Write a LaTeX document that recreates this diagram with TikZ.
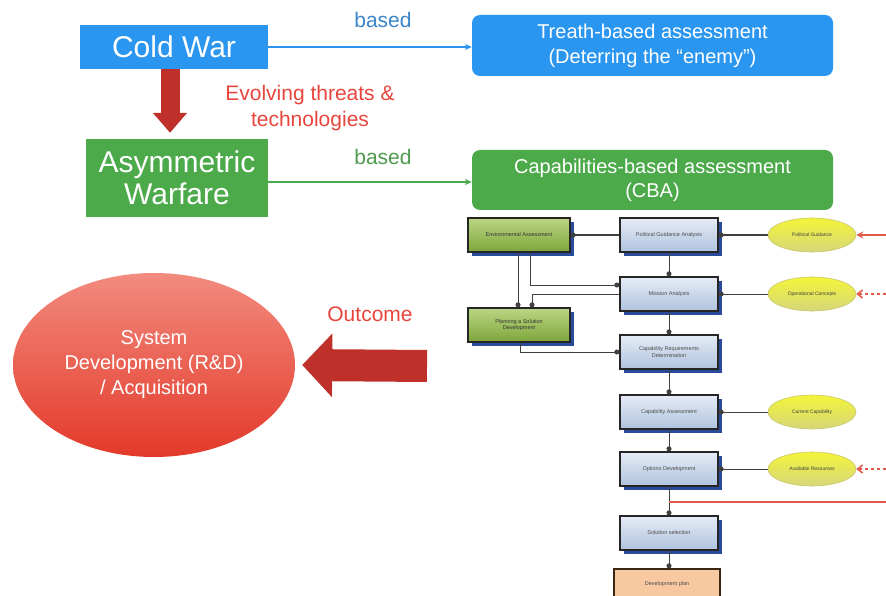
\documentclass[tikz,border=0pt]{standalone}
\usepackage{fontspec}
\setmainfont{Liberation Sans}
\usetikzlibrary{arrows.meta,shadows,calc,shapes.geometric}
\definecolor{cwblue}{HTML}{2A96F0}
\definecolor{awgreen}{HTML}{4DAA4A}
\definecolor{basedblue}{HTML}{3A86C8}
\definecolor{basedgreen}{HTML}{4E9A4E}
\definecolor{redtext}{HTML}{E8453C}
\definecolor{darkred}{HTML}{C0302A}
\definecolor{redtop}{HTML}{F28B7E}
\definecolor{redbot}{HTML}{E3392A}
\definecolor{boxtop}{HTML}{E6ECF6}
\definecolor{boxbot}{HTML}{AFC3DE}
\definecolor{gtop}{HTML}{BCD684}
\definecolor{gbot}{HTML}{7DA63A}
\definecolor{shadowblue}{HTML}{2A4A9A}
\definecolor{ytop}{HTML}{F4F43A}
\definecolor{ybot}{HTML}{D6D67A}
\definecolor{yborder}{HTML}{C8C870}
\definecolor{orangefill}{HTML}{F8C8A0}
\definecolor{linered}{HTML}{E05A4A}
\begin{document}
\begin{tikzpicture}[x=1pt,y=-1pt,
  bigbox/.style={draw=none, text=white, align=center, inner sep=0pt},
  fbase/.style={draw=black!85, line width=1.3pt, minimum width=98pt, minimum height=34pt,
    inner sep=1pt, align=center, font=\fontsize{5.5}{6.5}\selectfont, text=black!70},
  fbox/.style={fbase,
    drop shadow={fill=shadowblue, opacity=1, shadow xshift=4pt, shadow yshift=-4pt}},
  bluebox/.style={fbox, top color=boxtop, bottom color=boxbot},
  greenbox/.style={fbox, top color=gtop, bottom color=gbot, minimum width=102pt, text=black!80},
  orangebox/.style={fbase, fill=orangefill, draw=black!70!brown, minimum width=106pt, minimum height=30pt},
  ell/.style={ellipse, draw=yborder, line width=0.6pt, top color=ytop, bottom color=ybot,
    minimum width=88pt, minimum height=34pt, inner sep=0pt,
    font=\fontsize{5}{6}\selectfont, text=black!75},
  conn/.style={draw=black!75, line width=1pt, -{Circle[length=5pt,width=5pt]}},
  redarr/.style={draw=linered, line width=1.6pt, -{Stealth[length=7pt,width=7pt]}},
  redarrd/.style={draw=linered, line width=1.6pt, dashed, -{Straight Barb[length=5pt,width=8pt]}}
]
\useasboundingbox (0,0) rectangle (886,596);
\fill[white] (0,0) rectangle (886,596);

% top part
\node[bigbox, fill=cwblue, minimum width=188pt, minimum height=44pt,
  font=\fontsize{30}{32}\selectfont] (cw) at (174,47) {Cold War};
\node[bigbox, fill=cwblue, rounded corners=8pt, minimum width=361pt, minimum height=61pt,
  font=\fontsize{20}{25}\selectfont] (tba) at (652.5,45.5) {Treath-based assessment\\(Deterring the “enemy”)};
\node[bigbox, fill=awgreen, minimum width=182pt, minimum height=78pt,
  font=\fontsize{30}{32}\selectfont] (aw) at (177,178) {Asymmetric\\Warfare};
\node[bigbox, fill=awgreen, rounded corners=8pt, minimum width=361pt, minimum height=60pt,
  font=\fontsize{20}{24}\selectfont] (cba) at (652.5,180) {Capabilities-based assessment\\(CBA)};

\node[text=basedblue, font=\fontsize{21}{24}\selectfont] (b1) at (383,20) {based};
\node[text=basedgreen, font=\fontsize{21}{24}\selectfont] (b2) at (383,157) {based};
\node[text=redtext, align=center, font=\fontsize{21}{26}\selectfont] (evo) at (310,108) {Evolving threats \&\\technologies};

\draw[cwblue, line width=1.6pt, -{Stealth[length=7pt,width=6pt]}] (cw.east) -- (cw.east -| tba.west);
\draw[awgreen, line width=1.6pt, -{Stealth[length=7pt,width=6pt]}] ([yshift=-4pt]aw.east) -- ([yshift=-4pt]aw.east -| cba.west);
\draw[darkred, line width=19pt, -{Triangle[length=20pt,width=33pt]}] ([xshift=-4pt]cw.south) -- ([xshift=-7pt,yshift=6pt]aw.north);

% ellipse and outcome
\node[ellipse, top color=redtop, bottom color=redbot, minimum width=282pt, minimum height=184pt,
  text=white, align=center, inner sep=0pt, font=\fontsize{20}{25}\selectfont] (rd) at (154,365)
  {System\\Development (R\&D)\\/ Acquisition};
\node[text=redtext, font=\fontsize{21}{24}\selectfont] (out) at (370,314) {Outcome};
\coordinate (ostart) at (427,366);
\draw[darkred, line width=32pt, -{Triangle[length=30pt,width=62pt]}] (ostart) -- ([xshift=7pt]rd.east);

% CBA flowchart
\node[greenbox] (env) at (519,235) {Environmental Assessment};
\node[bluebox] (pga) at (669,235) {Political Guidance Analysis};
\node[bluebox] (ma) at (669,294) {Mission Analysis};
\node[greenbox] (plan) at (519,325) {Planning a Solution\\Development};
\node[bluebox] (crd) at (669,352) {Capability Requirements\\Determination};
\node[bluebox] (ca) at (669,412) {Capability Assessment};
\node[bluebox] (od) at (669,469) {Options Development};
\node[bluebox] (ss) at (669,533) {Solution selection};
\node[orangebox] (dp) at (667,584) {Development plan};

\node[ell] (pg) at (812,235) {Political Guidance};
\node[ell] (oc) at (812,294) {Operational Concepts};
\node[ell] (cc) at (812,412) {Current Capability};
\node[ell] (ar) at (812,469) {Available Resources};

\draw[conn] (pga) -- (env);
\draw[conn] (pg) -- (pga);
\draw[conn] (pga) -- (ma);
\draw[conn] ([xshift=-1pt]env.south) -- ([xshift=-1pt]plan.north);
\draw[conn] ([xshift=11pt]env.south) |- ($(ma.west)+(0,-9)$);
\draw[conn] (ma.west) -| ([xshift=13pt]plan.north);
\draw[conn] (oc) -- (ma);
\draw[conn] (ma) -- (crd);
\draw[conn] ([xshift=1pt]plan.south) |- (crd.west);
\draw[conn] (crd) -- (ca);
\draw[conn] (cc) -- (ca);
\draw[conn] (ca) -- (od);
\draw[conn] (ar) -- (od);
\draw[conn] (od) -- (ss);
\draw[conn] (ss.south) -- (ss.south |- dp.north);

\coordinate (r1) at (886,235);
\coordinate (r2) at (886,294);
\coordinate (r3) at (886,469);
\coordinate (r4) at (886,502);
\draw[redarr] (r1) -- (pg.east);
\draw[redarrd] (r2) -- (oc.east);
\draw[redarrd] (r3) -- (ar.east);
\draw[linered, line width=2.5pt] (r4) -- (r4 -| od.south);
\end{tikzpicture}
\end{document}
